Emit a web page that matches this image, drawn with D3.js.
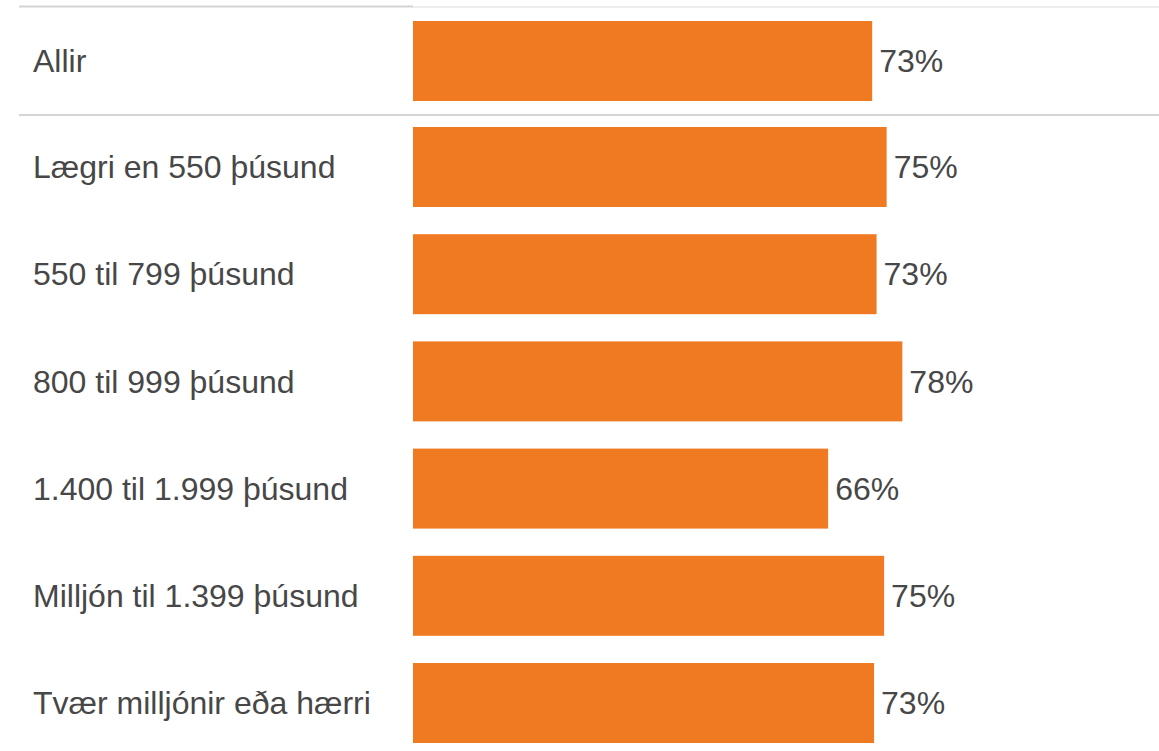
<!DOCTYPE html>
<html>
<head>
<meta charset="utf-8">
<script src="https://cdn.jsdelivr.net/npm/d3@7"></script>
<style>
    body { margin: 0; background: #fff; }
    svg { display: block; font-family: "Liberation Sans", Arial, sans-serif; }
</style>
</head>
<body>
<div id="chart"></div>
<script>
// categories and values (share, %)
var categories = ["Allir", "Lægri en 550 þúsund", "550 til 799 þúsund", "800 til 999 þúsund",
    "1.400 til 1.999 þúsund", "Milljón til 1.399 þúsund", "Tvær milljónir eða hærri"];
var values = [73.0, 75.3, 73.7, 77.8, 66.0, 74.9, 73.3];
var valueLabels = ["73%", "75%", "73%", "78%", "66%", "75%", "73%"];

var width = 1159, height = 751;
var barLeft = 413;
var orange = "#f07a22";
var textColor = "#474747";

var svg = d3.select("#chart").append("svg")
    .attr("width", width)
    .attr("height", height);

// x scale: percent -> pixels
var x = d3.scaleLinear()
    .domain([0, 100])
    .range([barLeft, barLeft + 629]);

// rows: first row (Allir) 7..115, the rest below the separator
var yTop = d3.scaleBand()
    .domain(categories.slice(0, 1))
    .range([7, 115])
    .paddingInner(0)
    .paddingOuter(0.175);
var yRest = d3.scaleBand()
    .domain(categories.slice(1))
    .range([115, 755])
    .paddingInner(0.254)
    .paddingOuter(0.112);

function yPos(c) { return c === categories[0] ? yTop(c) : yRest(c); }
function bandH(c) { return c === categories[0] ? yTop.bandwidth() : yRest.bandwidth(); }

var data = categories.map(function (c, i) {
    return { cat: c, value: values[i], label: valueLabels[i] };
});

// grid lines
svg.append("line")
    .attr("x1", 19).attr("x2", barLeft)
    .attr("y1", 6.5).attr("y2", 6.5)
    .attr("stroke", "#d4d4d4").attr("stroke-width", 2);
svg.append("line")
    .attr("x1", barLeft).attr("x2", width)
    .attr("y1", 7).attr("y2", 7)
    .attr("stroke", "#dcdcdc").attr("stroke-width", 1);
svg.append("line")
    .attr("x1", 19).attr("x2", width)
    .attr("y1", 115).attr("y2", 115)
    .attr("stroke", "#d4d4d4").attr("stroke-width", 2);

// bars
svg.selectAll("rect.bar")
    .data(data)
    .enter()
    .append("rect")
    .attr("class", "bar")
    .attr("x", x(0))
    .attr("y", function (d) { return yPos(d.cat); })
    .attr("width", function (d) { return x(d.value) - x(0); })
    .attr("height", function (d) { return bandH(d.cat); })
    .attr("fill", orange);

// category labels
svg.selectAll("text.cat")
    .data(data)
    .enter()
    .append("text")
    .attr("class", "cat")
    .attr("x", 33)
    .attr("y", function (d) { return yPos(d.cat) + bandH(d.cat) / 2; })
    .attr("dy", "0.35em")
    .attr("font-size", 32)
    .attr("fill", textColor)
    .text(function (d) { return d.cat; });

// value labels
svg.selectAll("text.val")
    .data(data)
    .enter()
    .append("text")
    .attr("class", "val")
    .attr("x", function (d) { return x(d.value) + 7; })
    .attr("y", function (d) { return yPos(d.cat) + bandH(d.cat) / 2; })
    .attr("dy", "0.35em")
    .attr("font-size", 32)
    .attr("fill", textColor)
    .text(function (d) { return d.label; });
</script>
</body>
</html>
